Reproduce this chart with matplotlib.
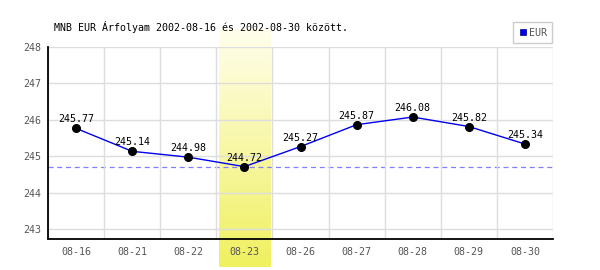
import numpy as np
import matplotlib
matplotlib.use('Agg')
import matplotlib.pyplot as plt
from matplotlib.lines import Line2D

# adatok
dates = ['08-16', '08-21', '08-22', '08-23', '08-26', '08-27', '08-28', '08-29', '08-30']
rates = [245.77, 245.14, 244.98, 244.72, 245.27, 245.87, 246.08, 245.82, 245.34]
y_ticks = [243, 244, 245, 246, 247, 248]
min_idx = int(np.argmin(rates))

plt.rcParams['font.family'] = ['DejaVu Sans Mono']
fs = 7.2

fig = plt.figure(figsize=(6, 2.7), dpi=100, facecolor='white')
ax = fig.add_axes([48 / 600, 1 - 238.5 / 270, 505 / 600, 191.5 / 270])

x = np.arange(len(dates))

# kiemelt nap (sarga sav, szinatmenet)
grad = np.linspace(0, 1, 100).reshape(-1, 1)
top_c = np.array([255, 254, 236]) / 255
bot_c = np.array([240, 240, 96]) / 255
img = top_c + (bot_c - top_c) * grad[:, :, None]
ax.imshow(img, extent=[min_idx - 0.46, min_idx + 0.46, 241.97, 248.47],
          aspect='auto', clip_on=False, zorder=0, interpolation='bilinear')
ax.set_xlim(-0.5, len(dates) - 0.5)
ax.set_ylim(242.75, 248)

# racs
ax.set_yticks(y_ticks)
ax.set_xticks(x)
ax.set_xticks(np.arange(-0.5, len(dates)), minor=True)
ax.grid(True, which='major', axis='y', color='#dddddd', lw=1, zorder=1)
ax.grid(True, which='minor', axis='x', color='#dddddd', lw=1, zorder=1)
ax.set_axisbelow(False)

# minimum szaggatott vonal
ax.axhline(rates[min_idx], color='#8080ff', lw=0.9, ls=(0, (4, 3)), zorder=2)

ax.plot(x, rates, color='#0000ee', lw=1, zorder=3)
ax.plot(x, rates, 'o', color='black', ms=5.5, zorder=4)
for xi, v in zip(x, rates):
    ax.annotate('%.2f' % v, (xi, v), xytext=(0, 4), textcoords='offset pixels',
                ha='center', va='bottom', fontsize=fs, color='black', zorder=5)

for s in ['top', 'right']:
    ax.spines[s].set_visible(False)
for s in ['left', 'bottom']:
    ax.spines[s].set_color('black')
    ax.spines[s].set_linewidth(1.3)
    ax.spines[s].set_zorder(6)

ax.set_xticklabels(dates)
ax.tick_params(axis='both', which='both', length=0, labelsize=fs, colors='#555555')
ax.tick_params(axis='x', pad=6)
ax.tick_params(axis='y', pad=5)

fig.text(54 / 600, 1 - 27 / 270, 'MNB EUR Árfolyam 2002-08-16 és 2002-08-30 között.',
         fontsize=fs, color='black', va='center', ha='left')

handle = Line2D([], [], marker='s', color='#0000ee', ls='none', ms=5,
                markeredgecolor='#000088', markeredgewidth=0.5)
leg = fig.legend([handle], ['EUR'], loc='upper right',
                 bbox_to_anchor=(552 / 600, 1 - 22 / 270), fancybox=False,
                 edgecolor='#cccccc', framealpha=1, fontsize=fs,
                 handlelength=0.8, handletextpad=0.2, borderpad=0.55,
                 borderaxespad=0)
for t in leg.get_texts():
    t.set_color('#555555')
leg.get_frame().set_linewidth(1)

fig.savefig('out.png', dpi=100, facecolor='white')
